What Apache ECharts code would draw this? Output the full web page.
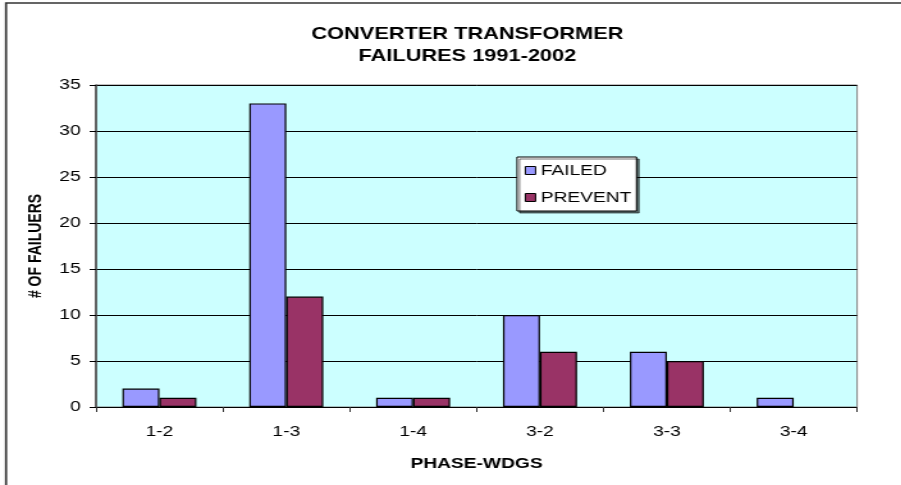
<!DOCTYPE html>
<html>
<head>
<meta charset="utf-8">
<script src="https://cdn.jsdelivr.net/npm/echarts@6/dist/echarts.min.js"></script>
<style>
  html,body{margin:0;padding:0;background:#fff;overflow:hidden;}
  #chart{height:485px;transform-origin:0 0;}
</style>
</head>
<body>
<div id="chart"></div>
<script>
// phase-winding categories
var categories = ['1-2', '1-3', '1-4', '3-2', '3-3', '3-4'];
var failed = [2, 33, 1, 10, 6, 1];
var prevent = [1, 12, 1, 6, 5, 0];
var yTicks = [0, 5, 10, 15, 20, 25, 30, 35];

var FONT = 'Liberation Sans, Arial, sans-serif';

// old excel export renders its text wide, so the whole chart is drawn
// narrower and stretched horizontally to the page width
var SX = 1.28;
var el = document.getElementById('chart');
el.style.width = Math.round(901 / SX) + 'px';
el.style.transform = 'scaleX(' + SX + ')';
function px(x) { return x / SX; }

// excel leaves zero values out
function noZero(arr) {
    return arr.map(function (v) { return v === 0 ? '-' : v; });
}

var chart = echarts.init(el);
var option = {
    animation: false,
    backgroundColor: '#fff',
    title: {
        text: 'CONVERTER TRANSFORMER\nFAILURES 1991-2002',
        left: px(461),
        textAlign: 'center',
        top: 18,
        textStyle: {
            fontFamily: FONT,
            fontSize: 17,
            fontWeight: 'bold',
            color: '#000',
            lineHeight: 22
        }
    },
    graphic: [{
        type: 'rect',
        shape: {x: px(6), y: 3, width: 800, height: 500},
        style: {fill: 'none', stroke: '#333', lineWidth: 1.7},
        silent: true
    }],
    legend: {
        orient: 'vertical',
        left: px(517),
        top: 157,
        padding: [6, 4, 6, 6],
        itemGap: 12,
        itemWidth: 8,
        itemHeight: 8,
        backgroundColor: '#fff',
        borderColor: '#000',
        borderWidth: 1,
        shadowColor: 'rgba(0,0,0,0.55)',
        shadowOffsetX: 2,
        shadowOffsetY: 2,
        icon: 'rect',
        itemStyle: {borderColor: '#000', borderWidth: 1},
        textStyle: {fontFamily: FONT, fontSize: 15, color: '#000', padding: [0, 0, 0, -1]},
        data: ['FAILED', 'PREVENT']
    },
    grid: {
        left: px(96),
        top: 85,
        right: px(44),
        bottom: 78,
        show: true,
        backgroundColor: '#CCFFFF',
        borderColor: '#808080',
        borderWidth: 1
    },
    xAxis: {
        type: 'category',
        data: categories,
        name: 'PHASE-WDGS',
        nameLocation: 'middle',
        nameGap: 49,
        nameTextStyle: {fontFamily: FONT, fontSize: 15, fontWeight: 'bold', color: '#000'},
        axisLine: {lineStyle: {color: '#000', width: 1}},
        axisTick: {show: true, length: 5, lineStyle: {color: '#333'}},
        axisLabel: {fontFamily: FONT, fontSize: 15, color: '#000', margin: 17}
    },
    yAxis: {
        type: 'value',
        min: 0,
        max: yTicks[yTicks.length - 1],
        interval: 5,
        name: '# OF FAILUERS',
        nameLocation: 'middle',
        nameGap: 34,
        nameTextStyle: {fontFamily: FONT, fontSize: 14, fontWeight: 'bold', color: '#000'},
        axisLine: {show: true, lineStyle: {color: '#4d4d4d', width: 1.6}},
        axisTick: {show: true, length: 5, lineStyle: {color: '#000'}},
        axisLabel: {fontFamily: FONT, fontSize: 15, color: '#000', margin: 12},
        splitLine: {show: true, lineStyle: {color: '#000', width: 1}}
    },
    series: [
        {
            name: 'FAILED',
            type: 'bar',
            data: noZero(failed),
            barWidth: px(37),
            barGap: '0%',
            itemStyle: {color: '#9999FF', borderColor: '#000', borderWidth: 1.2}
        },
        {
            name: 'PREVENT',
            type: 'bar',
            data: noZero(prevent),
            barWidth: px(37),
            barGap: '0%',
            itemStyle: {color: '#993366', borderColor: '#000', borderWidth: 1.2}
        }
    ]
};
chart.setOption(option);
</script>
</body>
</html>
